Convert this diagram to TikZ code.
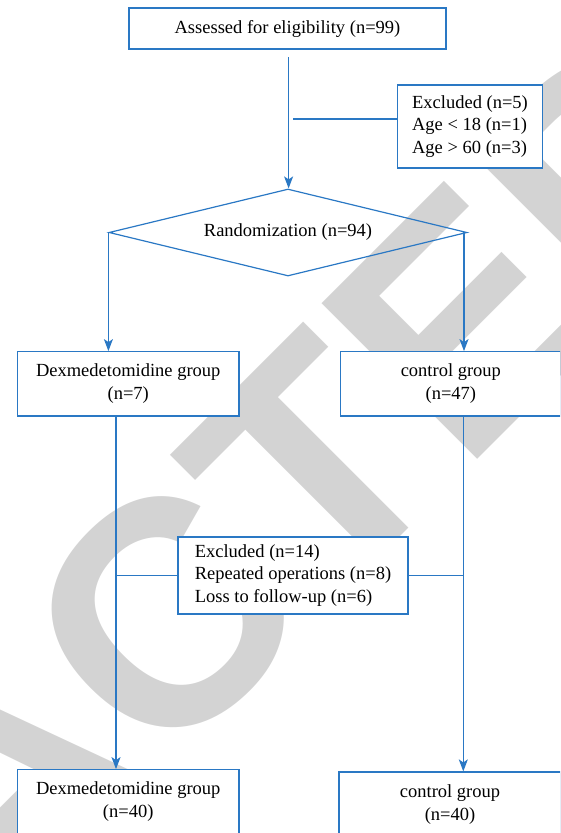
\documentclass[tikz,border=0pt]{standalone}
\usepackage{fontspec}
\setmainfont{Liberation Serif}
\newfontfamily\wmfont{Liberation Sans}
\usetikzlibrary{shapes.geometric,arrows.meta,calc}
\definecolor{flowblue}{RGB}{42,120,196}
\definecolor{wmgray}{RGB}{211,211,211}
\newcommand\boxfont{\fontsize{18.5}{22.8}\selectfont}
\begin{document}
\begin{tikzpicture}[x=1pt,y=-1pt,
  fbox/.style={draw=flowblue, line width=1.2pt, fill=white, inner sep=0pt, font=\boxfont, align=center},
  conn/.style={draw=flowblue, line width=1.2pt},
  arr/.style={conn, -{Stealth[length=12pt,width=9pt,inset=3pt]}}]
\clip (0,0) rectangle (560,833);
% watermark
\node[anchor=base west, rotate=45, inner sep=0pt, text=wmgray, font=\wmfont\bfseries\fontsize{320}{320}\selectfont] (wm) at (-619,1556) {RETRACTED};
% nodes
\node[fbox, minimum width=317pt, minimum height=41pt] (top) at (287.5,28.5) {Assessed for eligibility (n=99)};
\node[fbox, align=left, minimum width=144.5pt, minimum height=83pt] (exa) at (470,126.5) {Excluded (n=5)\\Age < 18 (n=1)\\Age > 60 (n=3)};
\node[shape=diamond, draw=flowblue, line width=1.2pt, aspect=4.1, inner sep=0pt, minimum width=358pt, minimum height=87pt, font=\boxfont] (rand) at (288,232.5) {Randomization (n=94)};
\node[fbox, minimum width=221.5pt, minimum height=64.3pt] (dexa) at (128.25,383.85) {Dexmedetomidine group\\(n=7)};
\node[fbox, minimum width=220.3pt, minimum height=64.3pt] (cona) at (450.85,383.85) {control group\\(n=47)};
\node[fbox, align=left, minimum width=230pt, minimum height=77pt] (exb) at (293,575.5) {Excluded (n=14)\\Repeated operations (n=8)\\Loss to follow-up (n=6)};
\node[fbox, minimum width=221.5pt, minimum height=64.3pt] (dexb) at (128.25,801.85) {Dexmedetomidine group\\(n=40)};
\node[fbox, minimum width=222pt, minimum height=64.3pt] (conb) at (450,804.15) {control group\\(n=40)};
% connectors
\coordinate (t1) at (288.6,57);
\coordinate (j1) at (293,119);
\draw[arr] (t1) -- (t1 |- rand.north);
\draw[conn] (j1) -- (j1 -| exa.west);
\coordinate (rl) at (rand.west);
\coordinate (rr) at ($(rand.east)+(-3.6,0)$);
\draw[arr] (rl) -- (rl |- dexa.north);
\draw[arr] (rr) -- (rr |- cona.north);
\coordinate (dl) at (116,416);
\coordinate (cr) at (463.3,416);
\draw[arr] (dl |- dexa.south) -- (dl |- dexb.north);
\draw[arr] (cr |- cona.south) -- (cr |- conb.north);
\coordinate (jl) at (116,575.7);
\coordinate (jr) at (463.3,575.7);
\draw[conn] (jl) -- (jl -| exb.west);
\draw[conn] (exb.east |- jr) -- (jr);
\end{tikzpicture}
\end{document}
